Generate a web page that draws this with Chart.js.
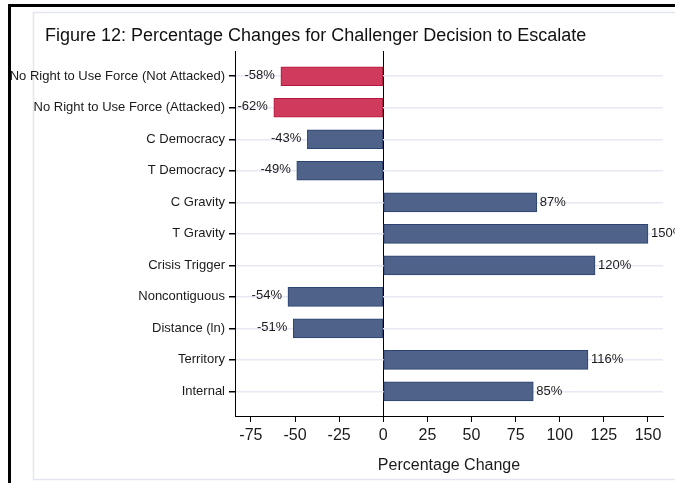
<!DOCTYPE html>
<html>
<head>
<meta charset="utf-8">
<script src="https://cdn.jsdelivr.net/npm/chart.js@4"></script>
<style>
  html, body { margin: 0; padding: 0; background: #fff; }
  #wrap { width: 675px; height: 483px; position: relative; }
  #title {
    position: absolute; left: 45px; top: 24px;
    font: 18px 'Liberation Sans', Arial, sans-serif; color: #111;
    white-space: nowrap; line-height: 22px;
  }
</style>
</head>
<body>
<div id="wrap">
  <canvas id="chart" width="675" height="483"></canvas>
  <div id="title">Figure 12: Percentage Changes for Challenger Decision to Escalate</div>
</div>
<script>
// categories, top to bottom
const categories = [
    'No Right to Use Force (Not Attacked)',
    'No Right to Use Force (Attacked)',
    'C Democracy',
    'T Democracy',
    'C Gravity',
    'T Gravity',
    'Crisis Trigger',
    'Noncontiguous',
    'Distance (ln)',
    'Territory',
    'Internal'
];
// percentage change for each category
const pctChange = [-58, -62, -43, -49, 87, 150, 120, -54, -51, 116, 85];
const xTicks = [-75, -50, -25, 0, 25, 50, 75, 100, 125, 150];

const FONT = "'Liberation Sans', Arial, sans-serif";
const BLUE = '#4f6289';
const BLUE_EDGE = '#2a4370';
const RED = '#d03a5c';
const RED_EDGE = '#b0183f';

const isForce = categories.map(c => c.startsWith('No Right'));

// black outer border and light inner frame
const framePlugin = {
    id: 'frame',
    beforeDraw(chart) {
        const ctx = chart.ctx;
        ctx.save();
        ctx.fillStyle = '#fff';
        ctx.fillRect(0, 0, chart.width, chart.height);
        ctx.strokeStyle = '#e3e6f0';
        ctx.lineWidth = 1.5;
        ctx.strokeRect(33.5, 12.5, 700, 467);
        ctx.fillStyle = '#000';
        ctx.fillRect(8, 4, chart.width, 3);
        ctx.fillRect(8, 4, 3, chart.height);
        ctx.restore();
    }
};

// value labels at bar ends
const barLabels = {
    id: 'barLabels',
    afterDatasetsDraw(chart) {
        const ctx = chart.ctx;
        const meta = chart.getDatasetMeta(0);
        ctx.save();
        ctx.font = '13px ' + FONT;
        ctx.fillStyle = '#1a1a1a';
        ctx.textBaseline = 'middle';
        meta.data.forEach((bar, i) => {
            const v = pctChange[i];
            if (v < 0) {
                ctx.textAlign = 'right';
                ctx.fillText(v + '%', bar.x - 6, bar.y - 1);
            } else {
                ctx.textAlign = 'left';
                ctx.fillText(v + '%', bar.x + 3, bar.y);
            }
        });
        ctx.restore();
    }
};

new Chart(document.getElementById('chart'), {
    type: 'bar',
    data: {
        datasets: [{
            data: pctChange.map((v, i) => ({ x: v, y: i })),
            backgroundColor: isForce.map(f => f ? RED : BLUE),
            borderColor: isForce.map(f => f ? RED_EDGE : BLUE_EDGE),
            borderWidth: 1,
            borderSkipped: false,
            barThickness: 19
        }]
    },
    options: {
        indexAxis: 'y',
        responsive: false,
        animation: false,
        layout: { padding: { left: 4, right: 12, top: 51, bottom: 0 } },
        plugins: {
            legend: { display: false },
            tooltip: { enabled: false },
            title: { display: false }
        },
        scales: {
            x: {
                type: 'linear',
                min: -84,
                max: 158.5,
                afterBuildTicks: s => { s.ticks = xTicks.map(v => ({ value: v })); },
                afterFit: s => { s.height = 67; },
                border: { display: true, color: '#000', width: 1 },
                grid: {
                    drawOnChartArea: true,
                    color: c => c.tick && c.tick.value === 0 ? '#000' : 'rgba(0,0,0,0)',
                    tickColor: '#000',
                    tickLength: 6,
                    lineWidth: 1
                },
                ticks: {
                    color: '#1a1a1a',
                    font: { family: FONT, size: 16 },
                    padding: 4,
                    maxRotation: 0
                },
                title: {
                    display: true,
                    text: 'Percentage Change',
                    color: '#1a1a1a',
                    font: { family: FONT, size: 16 },
                    padding: { top: 0, bottom: 8 }
                }
            },
            y: {
                type: 'linear',
                reverse: true,
                offset: false,
                min: -0.8,
                max: 10.78,
                afterBuildTicks: s => { s.ticks = categories.map((c, i) => ({ value: i })); },
                afterFit: s => { s.width = 235 - 4; },
                border: { display: true, color: '#000', width: 1 },
                grid: {
                    offset: false,
                    color: '#e6e9f3',
                    tickColor: '#000',
                    tickLength: 6,
                    lineWidth: 1.5
                },
                ticks: {
                    color: '#1a1a1a',
                    font: { family: FONT, size: 13 },
                    padding: 4,
                    callback: v => categories[v]
                }
            }
        }
    },
    plugins: [framePlugin, barLabels]
});
</script>
</body>
</html>
